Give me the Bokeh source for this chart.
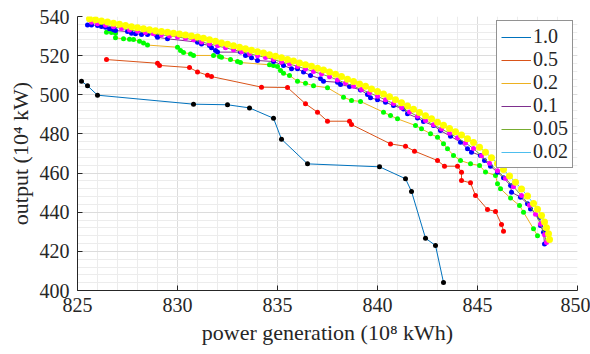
from bokeh.plotting import figure
from bokeh.models import Range1d, FixedTicker, Legend, LegendItem
from bokeh.embed import file_html
from bokeh.resources import INLINE

# ---- data ----
labels = ["1.0", "0.5", "0.2", "0.1", "0.05", "0.02"]
line_colors = ["#0072BD", "#D95319", "#EDB120", "#7E2F8E", "#77AC30", "#4DBEEE"]
marker_colors = ["#000000", "#FF0000", "#00FF00", "#0000FF", "#FF00FF", "#FFFF00"]

x_10 = [825.2, 825.5, 826.0, 830.8, 832.5, 833.6, 834.8, 835.2, 836.5, 840.1, 841.4, 841.7, 842.4, 842.9, 843.3]
y_10 = [506.9, 504.6, 499.8, 495.2, 494.9, 493.3, 488.0, 477.3, 464.7, 463.2, 457.1, 450.6, 426.7, 423.0, 404.1]

x_05 = [826.45, 829.0, 829.1, 830.6, 831.0, 831.5, 831.7, 834.2, 835.5, 836.4, 837.0, 837.5, 838.6, 838.7,
        840.65, 841.4, 841.85, 843.0, 843.35, 844.0, 844.2, 844.2, 844.65, 844.9, 845.5, 845.9, 846.2, 846.3]
y_05 = [518.0, 516.1, 515.0, 513.9, 511.7, 510.0, 509.3, 503.9, 503.7, 495.4, 491.1, 486.5, 486.5, 484.8,
        474.9, 473.7, 471.2, 466.4, 463.5, 463.5, 460.4, 456.2, 455.0, 448.5, 441.4, 440.4, 433.7, 430.3]

x_02 = [826.45, 826.7, 826.9, 826.9, 827.3, 827.6, 827.8, 828.1, 828.3, 828.5, 830.0, 830.15, 830.3, 830.65,
        830.8, 831.8, 832.1, 832.2, 832.65, 833.0, 833.15, 834.6, 834.8, 835.0, 835.15, 835.3, 835.6, 836.0,
        836.4, 836.8, 837.5, 838.3, 838.7, 839.15, 840.3, 840.65, 841.0, 841.9, 842.2, 842.65, 843.0, 843.3,
        843.5, 843.8, 844.15, 844.65, 845.1, 845.4, 845.9, 846.0, 846.15, 846.65, 847.1, 847.3, 847.8, 848.0]
y_02 = [532.0, 531.8, 531.5, 529.1, 528.6, 528.4, 528.2, 527.4, 526.4, 525.4, 524.3, 522.6, 521.6, 520.9,
        520.1, 520.1, 519.6, 519.2, 518.0, 517.0, 516.5, 515.3, 515.0, 514.5, 512.4, 511.0, 509.9, 506.9,
        505.9, 504.6, 503.6, 498.8, 497.1, 496.6, 491.1, 489.4, 487.7, 484.3, 482.6, 480.1, 478.3, 475.0,
        472.4, 469.0, 466.4, 464.7, 463.9, 460.5, 458.8, 454.5, 452.0, 447.2, 443.4, 440.0, 431.5, 428.0]

x_01 = [825.5, 825.7, 826.0, 826.2, 826.4, 826.6, 826.8, 826.9, 827.5, 827.7, 827.9, 828.2, 828.5, 828.95,
        829.0, 829.5, 831.0, 831.2, 831.6, 831.7, 831.9, 832.0, 833.15, 833.4, 833.7, 834.0, 834.8, 835.3,
        835.7, 836.0, 836.3, 836.65, 837.15, 837.3, 838.0, 838.15, 838.6, 839.15, 839.5, 839.65, 840.0,
        840.4, 840.8, 841.3, 841.5, 842.0, 842.3, 842.8, 843.15, 843.65, 844.15, 844.5, 844.7, 845.15,
        845.35, 845.65, 846.0, 846.3, 846.65, 846.7, 847.15, 847.5, 847.65, 848.1, 848.15, 848.3, 848.35]
y_01 = [535.7, 535.7, 535.4, 534.9, 534.5, 533.7, 533.2, 532.8, 532.3, 531.5, 531.2, 530.8, 530.8, 530.4,
        529.4, 528.6, 526.9, 526.0, 525.2, 524.0, 522.6, 521.8, 521.8, 520.1, 518.9, 517.5, 517.0, 515.0,
        513.3, 513.3, 511.6, 509.9, 508.2, 506.9, 506.4, 505.3, 504.2, 502.5, 500.1, 498.5, 497.4,
        496.2, 494.5, 492.8, 490.3, 488.2, 486.3, 484.3, 481.7, 478.8, 475.8, 472.4, 470.7, 469.0,
        466.4, 463.5, 460.4, 457.6, 453.6, 450.2, 447.7, 444.3, 441.7, 437.4, 433.2, 429.8, 423.8]

x_005 = [825.7, 826.0, 826.4, 826.8, 827.2, 827.6, 828.0, 828.4, 828.8, 829.2, 829.6, 830.0, 830.4, 830.8,
         831.2, 831.6, 832.0, 832.4, 832.8, 833.2, 833.6, 834.0, 834.4, 834.8, 835.2, 835.6, 836.0, 836.4,
         836.8, 837.2, 837.6, 838.0, 838.4, 838.8, 839.2, 839.6, 840.0, 840.4, 840.8, 841.2, 841.6, 842.0,
         842.4, 842.8, 843.2, 843.6, 844.0, 844.4, 844.8, 845.2, 845.6, 846.0, 846.4, 846.8, 847.2, 847.6,
         847.9, 848.15, 848.35, 848.45]
y_005 = [537.0, 536.3, 535.5, 534.7, 533.9, 533.1, 532.4, 531.8, 531.2, 530.6, 530.1, 529.5, 528.9, 528.1,
         527.0, 526.0, 525.0, 524.0, 523.0, 522.0, 521.0, 520.0, 519.1, 518.0, 516.8, 515.7, 514.5, 513.2,
         511.9, 510.6, 509.2, 507.6, 506.0, 504.4, 502.7, 501.0, 499.2, 497.4, 495.5, 493.4, 491.2, 489.0,
         486.9, 484.7, 482.5, 480.3, 478.0, 475.4, 472.5, 468.8, 465.0, 461.2, 457.2, 453.0, 448.5, 443.5,
         439.0, 434.0, 428.5, 424.5]

x_002 = [825.6, 825.9, 826.2, 826.5, 826.8, 827.1, 827.4, 827.7, 828.0, 828.3, 828.6, 828.9, 829.2, 829.5,
         829.8, 830.1, 830.4, 830.7, 831.0, 831.3, 831.6, 831.9, 832.2, 832.5, 832.8, 833.1, 833.4, 833.7,
         834.0, 834.3, 834.6, 834.9, 835.2, 835.5, 835.8, 836.1, 836.4, 836.7, 837.0, 837.3, 837.6, 837.9,
         838.2, 838.5, 838.8, 839.1, 839.4, 839.7, 840.0, 840.3, 840.6, 840.9, 841.2, 841.5, 841.8, 842.1,
         842.4, 842.7, 843.0, 843.3, 843.6, 843.9, 844.2, 844.5, 844.8, 845.1, 845.4, 845.7, 846.0, 846.3,
         846.6, 846.9, 847.2, 847.5, 847.8, 848.0, 848.2, 848.35, 848.45, 848.55, 848.6]
y_002 = [538.8, 538.3, 537.7, 537.2, 536.6, 536.0, 535.4, 534.8, 534.2, 533.7, 533.2, 532.7, 532.3, 531.9,
         531.5, 531.0, 530.5, 530.0, 529.5, 528.9, 528.1, 527.3, 526.5, 525.8, 525.0, 524.3, 523.5, 522.8,
         522.0, 521.3, 520.5, 519.7, 518.9, 518.0, 517.2, 516.3, 515.4, 514.6, 513.6, 512.7, 511.7, 510.5,
         509.3, 508.0, 506.8, 505.5, 504.3, 503.0, 501.7, 500.4, 499.0, 497.5, 495.9, 494.3, 492.6, 490.9,
         489.3, 487.7, 486.0, 484.4, 482.8, 481.1, 479.4, 477.6, 475.6, 473.2, 470.6, 467.8, 464.9, 461.8,
         458.5, 455.3, 451.9, 448.3, 444.4, 441.5, 438.3, 435.0, 432.0, 429.0, 426.0]

xs = [x_10, x_05, x_02, x_01, x_005, x_002]
ys = [y_10, y_05, y_02, y_01, y_005, y_002]
marker_sizes = [5, 5, 5, 5, 5, 7]

x_ticks = [825, 830, 835, 840, 845, 850]
y_ticks = [400, 420, 440, 460, 480, 500, 520, 540]
x_minor = list(range(825, 851))
y_minor = list(range(400, 541, 4))

FONT = "Liberation Serif"
DARK = "#262626"

p = figure(width=590, height=354, output_backend="svg", toolbar_location=None,
           x_range=Range1d(825, 850), y_range=Range1d(400, 540),
           min_border_left=77, min_border_right=13, min_border_top=16, min_border_bottom=64)
p.outline_line_color = None
p.background_fill_color = "white"

p.xaxis.ticker = FixedTicker(ticks=x_ticks, minor_ticks=x_minor)
p.yaxis.ticker = FixedTicker(ticks=y_ticks, minor_ticks=y_minor)

for ax in (p.xaxis[0], p.yaxis[0]):
    ax.axis_line_color = DARK
    ax.major_tick_line_color = DARK
    ax.major_tick_in = 5
    ax.major_tick_out = 0
    ax.minor_tick_in = 0
    ax.minor_tick_out = 0
    ax.major_label_text_font = FONT
    ax.major_label_text_font_size = "20px"
    ax.major_label_text_color = DARK
    ax.axis_label_text_font = FONT
    ax.axis_label_text_font_size = "22px"
    ax.axis_label_text_font_style = "normal"
    ax.axis_label_text_color = DARK

p.xaxis.axis_label = "power generation (10\u2078 kWh)"
p.yaxis.axis_label = "output (10\u2074 kW)"
p.xaxis.major_label_standoff = 7
p.yaxis.major_label_standoff = 8
p.xaxis.axis_label_standoff = 5
p.yaxis.axis_label_standoff = 4

for g in (p.xgrid[0], p.ygrid[0]):
    g.grid_line_color = "#dcdcdc"
    g.minor_grid_line_color = "#ececec"

items = []
for lab, lc, mc, x, y, ms in zip(labels, line_colors, marker_colors, xs, ys, marker_sizes):
    r = p.line(x, y, line_color=lc, line_width=1)
    p.scatter(x, y, size=ms, fill_color=mc, line_color=mc, line_width=0)
    items.append(LegendItem(label=lab, renderers=[r]))

legend = Legend(items=items, location="top_right")
legend.label_text_font = FONT
legend.label_text_font_size = "20px"
legend.label_text_color = DARK
legend.label_height = 20
legend.glyph_height = 20
legend.glyph_width = 30
legend.label_standoff = 2
legend.spacing = 0
legend.padding = 4
legend.margin = 4
legend.border_line_color = DARK
legend.border_line_width = 1
legend.background_fill_color = "white"
legend.background_fill_alpha = 1
p.add_layout(legend)

open("out.html", "w").write(file_html(p, INLINE))
